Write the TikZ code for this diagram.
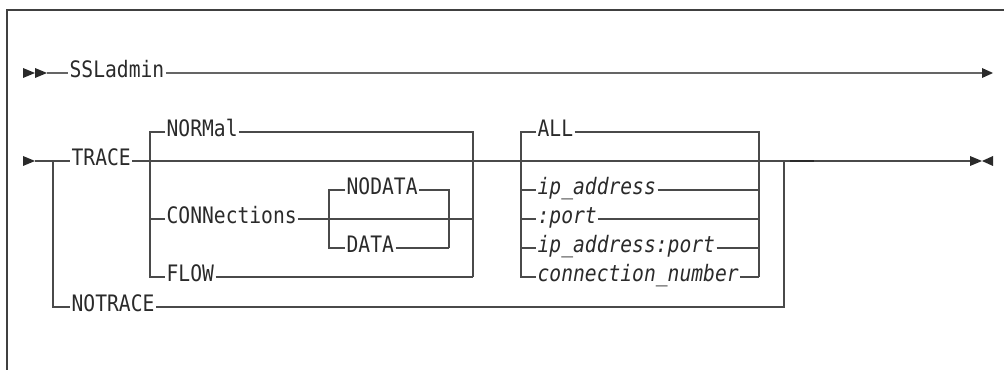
\documentclass[tikz,border=0pt]{standalone}
\usepackage{fontspec}
\newfontfamily\kwfont[FakeStretch=0.867]{DejaVu Sans Mono}
\definecolor{railc}{HTML}{4A4A4A}
\definecolor{textc}{HTML}{2A2A2A}
\definecolor{framec}{HTML}{404040}
\begin{document}
\begin{tikzpicture}[x=0.75pt,y=-0.75pt,
  kw/.style={font=\kwfont\fontsize{17}{20}\selectfont, text=textc, anchor=west,
    inner xsep=1pt, inner ysep=0pt, text height=0.70em, text depth=0pt},
  var/.style={kw, font=\kwfont\fontsize{17}{20}\selectfont\itshape},
  rail/.style={draw=railc, line width=1pt},
  toprail/.style={draw=railc!85, line width=1.4pt},
  tip/.style={fill=textc},
  framel/.style={draw=framec, line width=1.5pt}]
\useasboundingbox (0,0) rectangle (1004,370);
% frame
\draw[framel] (7,370) -- (7,10) -- (1004,10);

% ---------- row 1 ----------
\node[kw] (ssl) at (68,73) {SSLadmin};
\coordinate (r1s) at (47,73);
\coordinate (r1e) at (982,73);
\fill[tip] (23,68) -- (35,73) -- (23,78) -- cycle;
\fill[tip] (35,68) -- (47,73) -- (35,78) -- cycle;
\draw[toprail] (r1s) -- (ssl.west);
\draw[toprail] (ssl.east) -- (r1e);
\fill[tip] (982,68) -- (993,73) -- (982,78) -- cycle;

% ---------- row 2 nodes ----------
\node[kw] (trace) at (70,161) {TRACE};
\node[kw] (notrace) at (70,307) {NOTRACE};
\node[kw] (normal) at (165,132) {NORMal};
\node[kw] (conn) at (165,219) {CONNections};
\node[kw] (flow) at (165,277) {FLOW};
\node[kw] (nodata) at (345,190) {NODATA};
\node[kw] (data) at (345,248) {DATA};
\node[kw] (all) at (536,132) {ALL};
\node[var] (ip) at (536,190) {ip\_address};
\node[var] (port) at (536,219) {:port};
\node[var] (ipport) at (536,248) {ip\_address:port};
\node[var] (cnum) at (536,277) {connection\_number};

% ---------- coordinates ----------
\coordinate (r2s) at (35,161);
\coordinate (j1) at (53,161);
\coordinate (j2) at (784,161);
\coordinate (r2e) at (970,161);
\coordinate (g1bl) at (150,277);
\coordinate (g1br) at (473,277);
\coordinate (g2l) at (329,248);
\coordinate (g2r) at (449,248);
\coordinate (g3bl) at (521,277);
\coordinate (g3br) at (759,277);
\coordinate (tk1) at (790,161);
\coordinate (tk2) at (814,161);

% start / end tips
\fill[tip] (23,156) -- (35,161) -- (23,166) -- cycle;
\fill[tip] (970,156) -- (982,161) -- (970,166) -- cycle;
\fill[tip] (993,156) -- (982,161) -- (993,166) -- cycle;

% main line
\draw[rail] (r2s) -- (trace.west);
\draw[rail] (trace.east) -- (r2e);
\draw[line width=1.6pt, textc] (tk1) -- (tk2);

% NOTRACE branch
\draw[rail] (j1) |- (notrace.west);
\draw[rail] (notrace.east) -| (j2);

% group 1
\draw[rail] (normal.west) -| (g1bl) -- (flow.west);
\draw[rail] (conn.west -| g1bl) -- (conn.west);
\draw[rail] (normal.east) -| (g1br);
\draw[rail] (flow.east) -- (g1br);
\draw[rail] (conn.east) -- (conn.east -| g1br);

% NODATA / DATA group
\draw[rail] (nodata.west) -| (g2l) -- (data.west);
\draw[rail] (nodata.east) -| (g2r);
\draw[rail] (data.east) -- (g2r);

% group 3
\draw[rail] (all.west) -| (g3bl) -- (cnum.west);
\draw[rail] (ip.west -| g3bl) -- (ip.west);
\draw[rail] (port.west -| g3bl) -- (port.west);
\draw[rail] (ipport.west -| g3bl) -- (ipport.west);
\draw[rail] (all.east) -| (g3br);
\draw[rail] (cnum.east) -- (g3br);
\draw[rail] (ip.east) -- (ip.east -| g3br);
\draw[rail] (port.east) -- (port.east -| g3br);
\draw[rail] (ipport.east) -- (ipport.east -| g3br);
\end{tikzpicture}
\end{document}
